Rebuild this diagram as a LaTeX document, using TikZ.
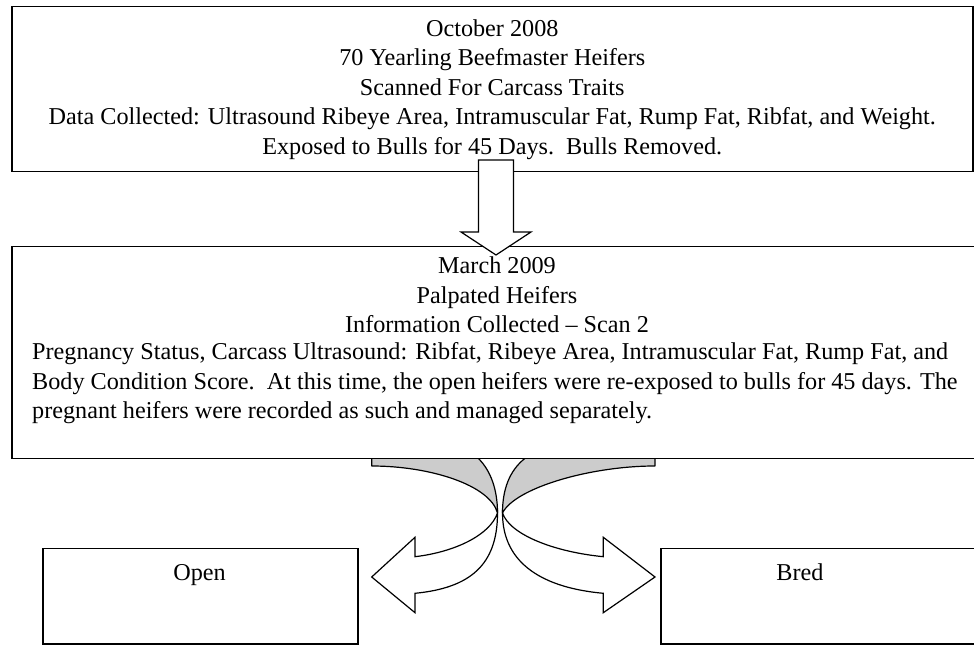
\documentclass[tikz,border=0pt]{standalone}
\usepackage{fontspec}
\setmainfont{Liberation Serif}
\usetikzlibrary{calc}

\begin{document}
\begin{tikzpicture}[x=1pt,y=1pt,
  box/.style={draw,line width=1.5pt,fill=white,inner sep=0pt},
  txt/.style={inner sep=0pt,font=\fontsize{24.2}{29.5}\selectfont},
  back/.style={draw,line width=1.2pt,fill=black!20,line join=round},
  front/.style={draw,line width=1.2pt,fill=white}]
  \useasboundingbox (0,0) rectangle (974,645);
  % october box
  \node[box,txt,align=center,minimum width=961pt,minimum height=165pt,anchor=north west] (octbox) at (11,639)
    {October 2008\\70 Yearling Beefmaster Heifers\\Scanned For Carcass Traits\\Data Collected: Ultrasound Ribeye Area, Intramuscular Fat, Rump Fat, Ribfat, and Weight.\\Exposed to Bulls for 45 Days.\ \ Bulls Removed.};
  % curved arrows, back parts
  \draw[back] (371.7,205) -- (371.7,179) .. controls (430,179) and (490,160) .. (497.5,132)
    .. controls (497.5,155) and (491,174) .. (478.3,186.7) -- (465,205) -- cycle;
  \draw[back] (655,205) -- (655,179) .. controls (590,179) and (515,157) .. (502.5,132)
    .. controls (502.5,155) and (509,174) .. (525,186.7) -- (540,205) -- cycle;
  % curved arrows, front parts
  \draw[front] (497.5,132) .. controls (490,110) and (455,93) .. (415,88.3)
    -- (415,107.7) -- (371.7,68) -- (415,32.3) -- (415,51.7)
    .. controls (470,57) and (497.5,80) .. (497.5,132) -- cycle;
  \draw[front] (502.5,132) .. controls (510,110) and (555,93) .. (603.3,88.3)
    -- (603.3,107.7) -- (655,68) -- (603.3,32.3) -- (603.3,51.7)
    .. controls (545,57) and (502.5,80) .. (502.5,132) -- cycle;
  % march box
  \node[box,minimum width=972pt,minimum height=212pt,anchor=north west] (marbox) at (11,399) {};
  \node[txt,align=center,anchor=north] (marhead) at (497,388)
    {March 2009\\Palpated Heifers\\Information Collected – Scan 2};
  \node[txt,align=left,anchor=north west] (marbody) at (32,302.4)
    {Pregnancy Status, Carcass Ultrasound: Ribfat, Ribeye Area, Intramuscular Fat, Rump Fat, and\\
     Body Condition Score.\ \ At this time, the open heifers were re-exposed to bulls for 45 days. The\\
     pregnant heifers were recorded as such and managed separately.};
  % down arrow
  \coordinate (dtip) at (496,390);
  \draw[front] ($(dtip)+(-17.5,95)$) -- ++(35,0) -- ++(0,-72) -- ++(17.5,0) -- (dtip)
    -- ++(-35,23) -- ++(17.5,0) -- cycle;
  % open / bred
  \node[box,minimum width=315pt,minimum height=95pt,anchor=north west] (openbox) at (42,97) {};
  \node[txt,anchor=base] (opentext) at (199.5,64) {Open};
  \node[box,minimum width=315pt,minimum height=95pt,anchor=north west] (bredbox) at (660,97) {};
  \node[txt,anchor=base] (bredtext) at (800,64) {Bred};
\end{tikzpicture}
\end{document}
